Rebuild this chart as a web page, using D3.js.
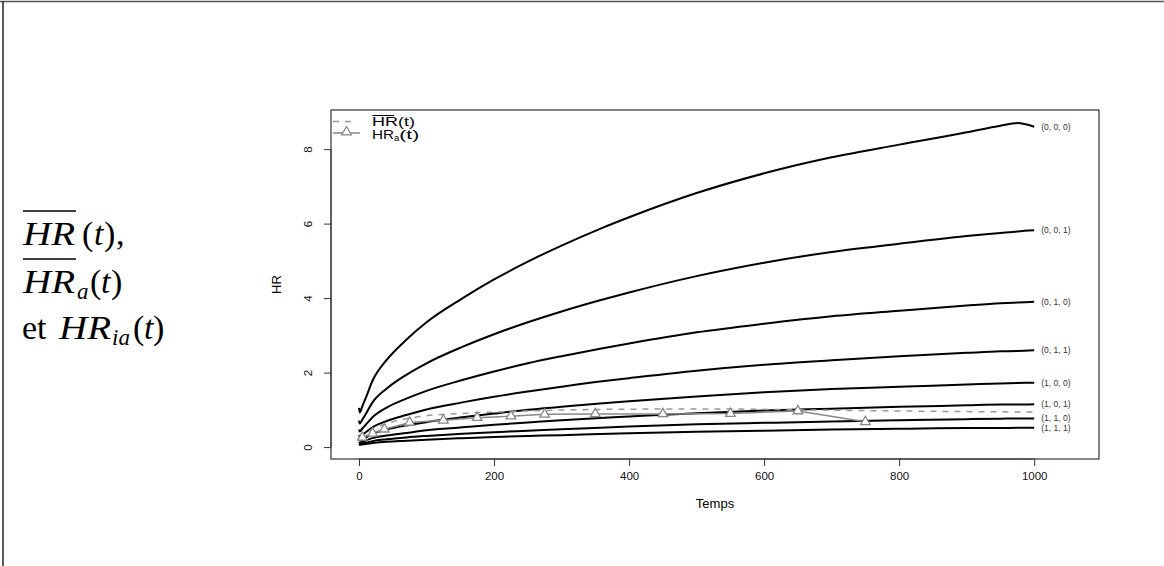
<!DOCTYPE html>
<html>
<head>
<meta charset="utf-8">
<script src="https://cdn.jsdelivr.net/npm/d3@7"></script>
<style>
  body { margin: 0; background: #fff; }
  svg { display: block; }
</style>
</head>
<body>
<svg id="chart" width="1164" height="566"></svg>
<script>
// ---------- data ----------
const times = [0, 1, 5, 10, 20, 41, 70, 100, 153, 200, 250, 300, 357, 400, 500, 600, 700, 800, 900, 950, 975, 1000];
const s000 = [1.05, 0.93, 1.1, 1.32, 1.78, 2.34, 2.88, 3.35, 3.99, 4.5, 4.98, 5.41, 5.86, 6.17, 6.82, 7.35, 7.78, 8.12, 8.45, 8.63, 8.7, 8.6];
const s001 = [0.71, 0.63, 0.74, 0.89, 1.2, 1.57, 1.94, 2.25, 2.69, 3.03, 3.35, 3.64, 3.94, 4.15, 4.59, 4.95, 5.24, 5.46, 5.67, 5.75, 5.79, 5.82];
const s010 = [0.47, 0.42, 0.5, 0.6, 0.8, 1.06, 1.3, 1.51, 1.8, 2.03, 2.25, 2.44, 2.64, 2.78, 3.08, 3.31, 3.51, 3.66, 3.8, 3.86, 3.88, 3.9];
const s011 = [0.32, 0.28, 0.33, 0.4, 0.53, 0.7, 0.86, 1.01, 1.2, 1.35, 1.49, 1.62, 1.76, 1.85, 2.05, 2.21, 2.33, 2.44, 2.53, 2.57, 2.58, 2.6];
const s100 = [0.21, 0.19, 0.22, 0.26, 0.36, 0.47, 0.58, 0.67, 0.8, 0.9, 1.0, 1.08, 1.17, 1.23, 1.36, 1.47, 1.56, 1.62, 1.68, 1.71, 1.72, 1.73];
const s101 = [0.14, 0.12, 0.15, 0.18, 0.24, 0.31, 0.38, 0.45, 0.53, 0.6, 0.66, 0.72, 0.78, 0.82, 0.91, 0.98, 1.03, 1.08, 1.12, 1.14, 1.14, 1.15];
const s110 = [0.09, 0.08, 0.1, 0.12, 0.16, 0.21, 0.26, 0.3, 0.36, 0.4, 0.44, 0.48, 0.52, 0.55, 0.61, 0.65, 0.69, 0.72, 0.75, 0.76, 0.77, 0.77];
const s111 = [0.06, 0.06, 0.07, 0.08, 0.11, 0.14, 0.17, 0.2, 0.24, 0.27, 0.3, 0.32, 0.35, 0.37, 0.41, 0.44, 0.47, 0.49, 0.51, 0.51, 0.52, 0.52];
const seriesLabels = ["(0, 0, 0)", "(0, 0, 1)", "(0, 1, 0)", "(0, 1, 1)", "(1, 0, 0)", "(1, 0, 1)", "(1, 1, 0)", "(1, 1, 1)"];

const meanTimes = [0, 5, 10, 20, 41, 90, 150, 200, 250, 350, 450, 550, 650, 750, 850, 1000];
const meanHR = [0.25, 0.32, 0.38, 0.48, 0.63, 0.82, 0.9, 0.94, 0.97, 1.01, 1.02, 1.02, 1.0, 0.98, 0.96, 0.94];

const adjTimes = [5, 20, 37.5, 75, 125, 175, 225, 275, 350, 450, 550, 650, 750];
const adjHR = [0.26, 0.37, 0.48, 0.66, 0.72, 0.79, 0.83, 0.88, 0.89, 0.89, 0.9, 0.97, 0.68];

const xTicks = [0, 200, 400, 600, 800, 1000];
const yTicks = [0, 2, 4, 6, 8];

// ---------- setup ----------
const svg = d3.select("#chart");
const box = { left: 331, right: 1099, top: 110, bottom: 459 };
const x = d3.scaleLinear().domain([-41.5, 1096]).range([box.left, box.right]);
const y = d3.scaleLinear().domain([-0.32, 9.05]).range([box.bottom, box.top]);
const sans = "'Liberation Sans', Arial, Helvetica, sans-serif";
const serif = "'Liberation Serif', 'Times New Roman', serif";

// outer frame (page border)
svg.append("line").attr("x1", 0).attr("x2", 1164).attr("y1", 1.5).attr("y2", 1.5)
  .attr("stroke", "#555").attr("stroke-width", 1.5);
svg.append("line").attr("x1", 3).attr("x2", 3).attr("y1", 1).attr("y2", 566)
  .attr("stroke", "#222").attr("stroke-width", 1.5);

// ---------- left math text ----------
const mt = svg.append("g").attr("font-family", serif).attr("fill", "#000");
function part(txt, xx, yy, italic, size, len) {
  const t = mt.append("text").attr("x", xx).attr("y", yy).attr("font-size", size || 34)
    .attr("font-style", italic ? "italic" : "normal").text(txt);
  if (len) t.attr("textLength", len).attr("lengthAdjust", "spacingAndGlyphs");
}
// line 1
part("HR", 23, 245, true, 34, 52); part("(", 82, 245); part("t", 94, 245, true); part(")", 104, 245); part(",", 116, 245);
mt.append("line").attr("x1", 23).attr("x2", 76).attr("y1", 211).attr("y2", 211).attr("stroke", "#000").attr("stroke-width", 1.4);
// line 2
part("HR", 23, 293, true, 34, 52); part("a", 77, 299, true, 23); part("(", 90, 293); part("t", 101, 293, true); part(")", 111, 293);
mt.append("line").attr("x1", 23).attr("x2", 76).attr("y1", 259).attr("y2", 259).attr("stroke", "#000").attr("stroke-width", 1.4);
// line 3
part("et", 22, 339); part("HR", 59, 339, true, 34, 52); part("ia", 112, 345, true, 23); part("(", 133, 339); part("t", 144, 339, true); part(")", 153, 339);

// ---------- plot box ----------
svg.append("rect").attr("x", box.left).attr("y", box.top)
  .attr("width", box.right - box.left).attr("height", box.bottom - box.top)
  .attr("fill", "none").attr("stroke", "#333").attr("stroke-width", 1.2);

// axes
const xAxis = d3.axisBottom(x).tickValues(xTicks).tickSize(7).tickPadding(6).tickFormat(d3.format("d"));
const gx = svg.append("g").attr("transform", `translate(0,${box.bottom})`).call(xAxis);
gx.select(".domain").attr("d", `M${x(0)},0H${x(1000)}`).attr("stroke", "#333");
gx.selectAll(".tick line").attr("stroke", "#333");
gx.selectAll(".tick text").attr("font-family", sans).attr("font-size", 11.5).attr("fill", "#111");

const yAxis = d3.axisLeft(y).tickValues(yTicks).tickSize(7).tickFormat(d3.format("d"));
const gy = svg.append("g").attr("transform", `translate(${box.left},0)`).call(yAxis);
gy.select(".domain").attr("d", `M0,${y(0)}V${y(8)}`).attr("stroke", "#333");
gy.selectAll(".tick line").attr("stroke", "#333");
gy.selectAll(".tick text")
  .attr("font-family", sans).attr("font-size", 11.5).attr("fill", "#111")
  .attr("x", null).attr("dy", null)
  .attr("text-anchor", "middle")
  .attr("transform", "translate(-19,0) rotate(-90)")
  .attr("y", 0);

svg.append("text").attr("x", (box.left + box.right) / 2).attr("y", 508)
  .attr("text-anchor", "middle").attr("font-family", sans).attr("font-size", 13).text("Temps");
svg.append("text").attr("transform", `translate(281,${(box.top + box.bottom) / 2}) rotate(-90)`)
  .attr("text-anchor", "middle").attr("font-family", sans).attr("font-size", 13).text("HR");

// ---------- black curves ----------
const allSeries = [s000, s001, s010, s011, s100, s101, s110, s111];
const line = d3.line().x(d => x(d[0])).y(d => y(d[1])).curve(d3.curveMonotoneX);
const gCurves = svg.append("g");
allSeries.forEach((vals, i) => {
  const pts = times.map((t, j) => [t, vals[j]]);
  gCurves.append("path").attr("d", line(pts)).attr("fill", "none")
    .attr("stroke", "#000").attr("stroke-width", 2);
  svg.append("text").attr("x", x(1000) + 7).attr("y", y(vals[vals.length - 1]))
    .attr("dy", "0.35em").attr("font-family", sans).attr("font-size", 8.5).attr("fill", "#333")
    .text(seriesLabels[i]);
});

// dashed mean HR
const meanPts = meanTimes.map((t, j) => [t, meanHR[j]]);
svg.append("path").attr("d", line(meanPts)).attr("fill", "none")
  .attr("stroke", "#999").attr("stroke-width", 1.5).attr("stroke-dasharray", "6,6");

// adjusted HR with triangles
const adjPts = adjTimes.map((t, j) => [t, adjHR[j]]);
const straight = d3.line().x(d => x(d[0])).y(d => y(d[1]));
svg.append("path").attr("d", straight(adjPts)).attr("fill", "none")
  .attr("stroke", "#888").attr("stroke-width", 1.5);
const tri = d3.symbol().type(d3.symbolTriangle).size(40);
svg.append("g").selectAll("path").data(adjPts).join("path")
  .attr("transform", d => `translate(${x(d[0])},${y(d[1])})`)
  .attr("d", tri).attr("fill", "#fff").attr("stroke", "#888").attr("stroke-width", 1.3);

// ---------- legend ----------
const lg = svg.append("g");
lg.append("line").attr("x1", 333).attr("x2", 356).attr("y1", 121.5).attr("y2", 121.5)
  .attr("stroke", "#999").attr("stroke-width", 1.5).attr("stroke-dasharray", "6,6");
lg.append("line").attr("x1", 333).attr("x2", 360).attr("y1", 133).attr("y2", 133)
  .attr("stroke", "#888").attr("stroke-width", 1.5);
lg.append("path").attr("transform", "translate(346.5,132)").attr("d", tri)
  .attr("fill", "#fff").attr("stroke", "#888").attr("stroke-width", 1.3);
lg.append("text").attr("x", 372).attr("y", 125.5).attr("font-family", sans).attr("font-size", 13)
  .attr("textLength", 43).attr("lengthAdjust", "spacingAndGlyphs").text("HR(t)");
lg.append("line").attr("x1", 372.5).attr("x2", 394).attr("y1", 115.5).attr("y2", 115.5).attr("stroke", "#000").attr("stroke-width", 1);
const t2 = lg.append("text").attr("x", 372).attr("y", 138.5).attr("font-family", sans).attr("font-size", 13);
t2.append("tspan").attr("textLength", 22).attr("lengthAdjust", "spacingAndGlyphs").text("HR");
t2.append("tspan").attr("font-size", 9.5).attr("dy", 2.5).text("a");
t2.append("tspan").attr("dy", -2.5).attr("textLength", 20).attr("lengthAdjust", "spacingAndGlyphs").text("(t)");
</script>
</body>
</html>
